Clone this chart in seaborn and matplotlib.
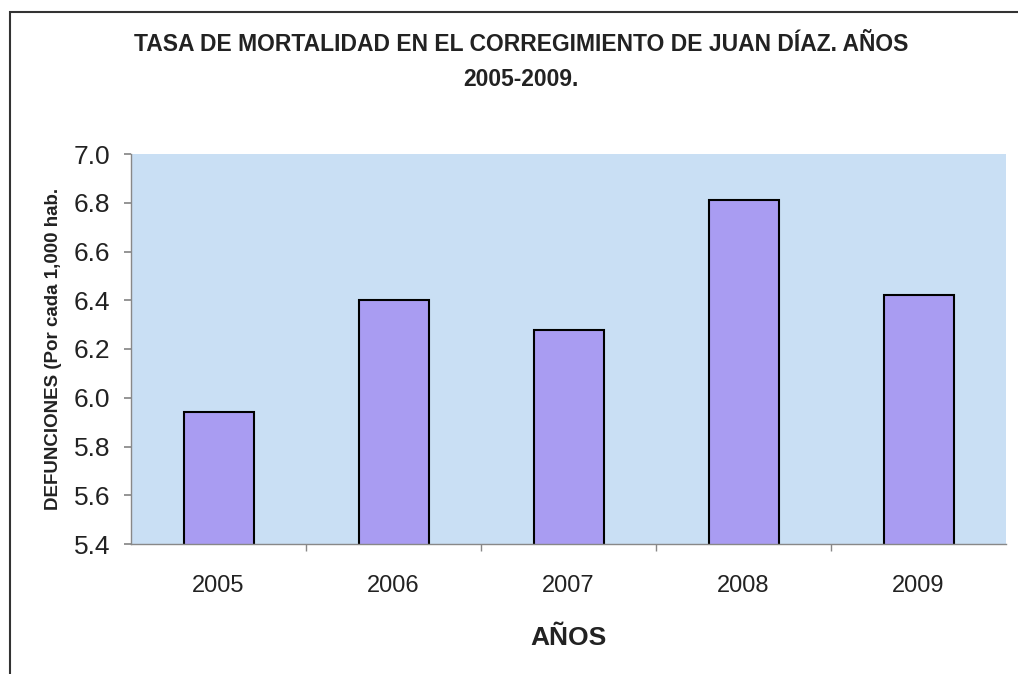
import numpy as np
import pandas as pd
import matplotlib
matplotlib.use('Agg')
import matplotlib.pyplot as plt
import seaborn as sns
from matplotlib.patches import Rectangle

# ---- data ----
years = ['2005', '2006', '2007', '2008', '2009']
tasa = [5.94, 6.40, 6.28, 6.81, 6.42]
yticks = [5.4, 5.6, 5.8, 6.0, 6.2, 6.4, 6.6, 6.8, 7.0]

title = 'TASA DE MORTALIDAD EN EL CORREGIMIENTO DE JUAN DÍAZ. AÑOS\n2005-2009.'
xlabel = 'AÑOS'
ylabel = 'DEFUNCIONES (Por cada 1,000 hab.'

sns.set_theme(style='white')
plt.rcParams['font.family'] = ['Liberation Sans', 'DejaVu Sans']

df = pd.DataFrame({'year': years, 'tasa': tasa})

fig = plt.figure(figsize=(10.18, 6.74), dpi=100)
ax = fig.add_axes([131 / 1018, 1 - 544 / 674, 875 / 1018, 390 / 674])
ax.set_facecolor('#c9dff4')

sns.barplot(data=df, x='year', y='tasa', color='#a99cf2', width=0.4,
            edgecolor='black', linewidth=1.5, saturation=1, ax=ax)

ax.set_ylim(5.4, 7.0)
ax.set_xlim(-0.5, 4.5)
ax.set_yticks(yticks)
ax.set_yticklabels([f'{v:.1f}' for v in yticks], fontsize=19, color='#222222')
ax.set_xticks(range(len(years)))
ax.set_xticklabels(years, fontsize=17, color='#222222')
ax.set_xticks(np.arange(0.5, 4.5, 1.0), minor=True)
ax.tick_params(axis='x', which='major', length=0, pad=22)
ax.tick_params(axis='x', which='minor', length=5, color='#888888', direction='out', bottom=True)
ax.tick_params(axis='y', length=5, color='#888888', direction='out', left=True, pad=10)

for s in ['top', 'right']:
    ax.spines[s].set_visible(False)
for s in ['left', 'bottom']:
    ax.spines[s].set_color('#888888')
    ax.spines[s].set_linewidth(1.0)

ax.set_xlabel(xlabel, fontsize=19, fontweight='bold', labelpad=21, color='#222222')
ax.set_ylabel(ylabel, fontsize=13.5, fontweight='bold', labelpad=8, color='#222222')

fig.text(0.512, 1 - 62 / 674, title, ha='center', va='center', fontsize=16.5,
         fontweight='bold', linespacing=1.65, color='#222222')

# chart frame (right side runs off the picture)
fig.patches.append(Rectangle((10 / 1018, -0.01), 1.1, 1 - 12 / 674 + 0.01,
                             transform=fig.transFigure, fill=False,
                             edgecolor='#333333', linewidth=1.5))

fig.savefig('out.png', dpi=100)
